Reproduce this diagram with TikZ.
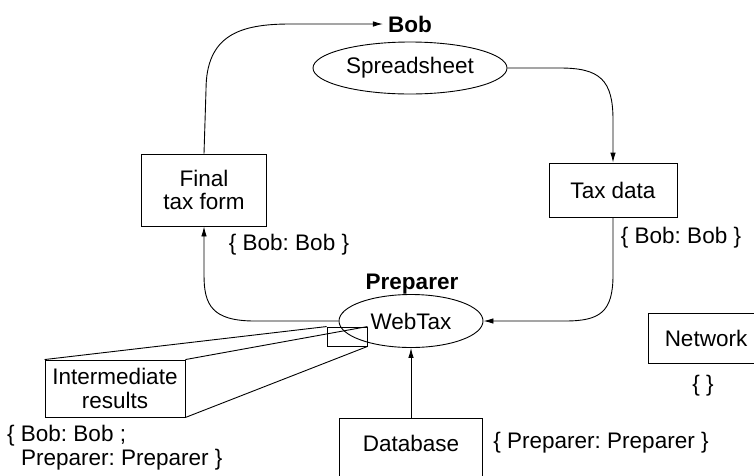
\documentclass[tikz,border=0pt]{standalone}
\usepackage{fontspec}
\setmainfont{Liberation Sans}
\usetikzlibrary{shapes.geometric,arrows.meta}
\frenchspacing
\begin{document}
\begin{tikzpicture}[x=1pt,y=-1pt,
  every node/.style={font=\fontsize{22.5}{23.5}\selectfont, inner sep=0pt},
  box/.style={draw, rectangle, line width=0.9pt, align=center},
  oval/.style={draw, ellipse, line width=0.9pt},
  conn/.style={line width=0.9pt},
  arr/.style={conn, -{Latex[length=10pt,width=5.5pt]}},
  lbl/.style={align=left}]
\useasboundingbox (0,0) rectangle (754,475);
% nodes
\node[font=\fontsize{22.5}{23.5}\selectfont\bfseries, inner xsep=5pt] (bob) at (410,24) {Bob};
\node[oval, minimum width=194pt, minimum height=52pt] (ss) at (410,68) {Spreadsheet};
\node[box, minimum width=125pt, minimum height=72pt] (fin) at (204,190) {Final\\tax form};
\node[box, minimum width=128pt, minimum height=54pt] (tax) at (613,190) {Tax data};
\node (lblR) at (681,238) {\{ Bob: Bob \}};
\node (lblL) at (289,245) {\{ Bob: Bob \}};
\node[font=\fontsize{22.5}{23.5}\selectfont\bfseries] (prep) at (412,284) {Preparer};
\node[oval, minimum width=144pt, minimum height=53pt] (wt) at (411,321) {WebTax};
\node[box, minimum width=143pt, minimum height=72pt, anchor=north] (db) at (411,418) {};
\node (dbt) at (411,443) {Database};
\node (lblDb) at (601,443) {\{ Preparer: Preparer \}};
\node[box, minimum width=116pt, minimum height=50pt] (net) at (706,338) {Network};
\node (lblNet) at (703,386) {\{ \}};
\node[box, minimum width=140pt, minimum height=57pt] (int) at (115,388.5) {Intermediate\\results};
\node[box, minimum width=40pt, minimum height=19pt] (small) at (347,336.5) {};
\node[lbl, anchor=north west] (lblInt) at (7,425) {\{ Bob: Bob ;\\\hspace{14pt}Preparer: Preparer \}};
% extrusion
\draw[conn] (int.north west) -- (small.north west);
\draw[conn] (int.north east) -- (small.north east);
\draw[conn] (int.south east) -- (small.south east);
% connectors
\draw[arr] (fin.north) -- (206,90) .. controls (206,35) and (240,24) .. (290,24) -- (bob.west);
\draw[arr] (ss.east) -- (560,68) .. controls (600,68) and (613,80) .. (613,120) -- (tax.north);
\draw[arr] (tax.south) -- (613,275) .. controls (613,312) and (600,321) .. (565,321) -- (wt.east);
\draw[arr] (wt.west) -- (255,321) .. controls (212,321) and (204,305) .. (204,275) -- (fin.south);
\draw[arr] (db.north) -- (wt.south);
\end{tikzpicture}
\end{document}
